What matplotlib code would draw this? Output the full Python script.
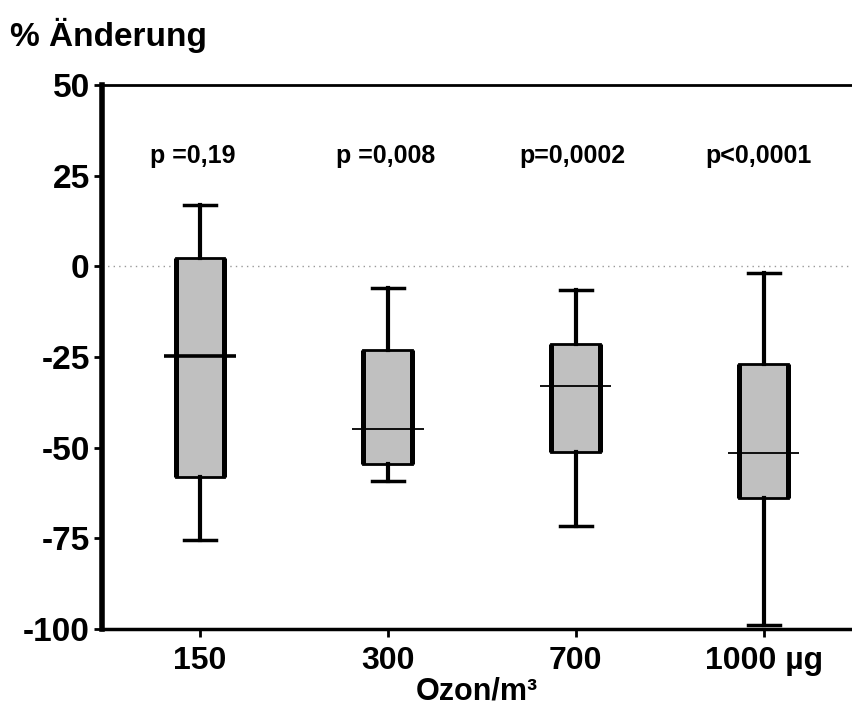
import matplotlib
matplotlib.use("Agg")
import matplotlib.pyplot as plt

plt.rcParams['font.family'] = ['Liberation Sans', 'DejaVu Sans']
plt.rcParams['font.weight'] = 'bold'

doses = ['150', '300', '700', '1000 µg']
p_labels = ['p =0,19', 'p =0,008', 'p=0,0002', 'p<0,0001']
whisker_low = [-75.4, -59.2, -71.7, -99.0]
q1 = [-58.1, -54.5, -51.2, -64.0]
median = [-24.7, -44.8, -33.1, -51.6]
q3 = [2.4, -23.1, -21.4, -26.8]
whisker_high = [16.9, -5.9, -6.5, -1.7]
median_lw = [2.6, 1.3, 1.3, 1.3]
y_ticks = [-100, -75, -50, -25, 0, 25, 50]

positions = list(range(1, len(doses) + 1))
stats = []
for i, name in enumerate(doses):
    stats.append(dict(label=name, whislo=whisker_low[i], q1=q1[i], med=median[i],
                      q3=q3[i], whishi=whisker_high[i], fliers=[]))

fig = plt.figure(figsize=(8.52, 7.09), dpi=100)
ax = fig.add_axes([0.12, 0.113, 0.88, 0.767])

ax.axhline(0, color='#999999', lw=1, ls=(0, (1, 3)), zorder=0)

box_w = 0.26
ax.bxp(stats, positions=positions, widths=box_w, capwidths=0.17, patch_artist=True,
       showfliers=False,
       boxprops=dict(facecolor='#c0c0c0', edgecolor='black', linewidth=2),
       whiskerprops=dict(color='black', linewidth=3),
       capprops=dict(color='black', linewidth=2.5),
       medianprops=dict(linewidth=0))

# thicker vertical sides of the boxes
for i, x in enumerate(positions):
    ax.vlines([x - box_w / 2, x + box_w / 2], q1[i], q3[i], color='black', lw=3.6, zorder=4)
    ax.hlines(median[i], x - 0.19, x + 0.19, color='black', lw=median_lw[i], zorder=5)
    ax.text(x - 0.04 if i == 0 else x - 0.01 * i, 30.5, p_labels[i], ha='center', va='center',
            fontsize=18, fontweight='bold')

ax.set_xlim(0.48, 4.47)
ax.set_ylim(-100, 50)
ax.set_yticks(y_ticks)
ax.set_yticklabels([str(t) for t in y_ticks], fontsize=24, fontweight='bold')
ax.set_xticks(positions)
ax.set_xticklabels(doses, fontsize=23, fontweight='bold')
ax.tick_params(axis='both', direction='out', length=6, width=2, pad=3)
ax.tick_params(axis='x', pad=6)

ax.spines['right'].set_visible(False)
ax.spines['left'].set_linewidth(4)
ax.spines['bottom'].set_linewidth(2.5)
ax.spines['top'].set_linewidth(2)

ax.set_xlabel('Ozon/m³', fontsize=22, fontweight='bold', labelpad=1)
fig.text(0.012, 0.95, '% Änderung', fontsize=24, fontweight='bold', ha='left', va='center')

fig.savefig('out.png', dpi=100)
